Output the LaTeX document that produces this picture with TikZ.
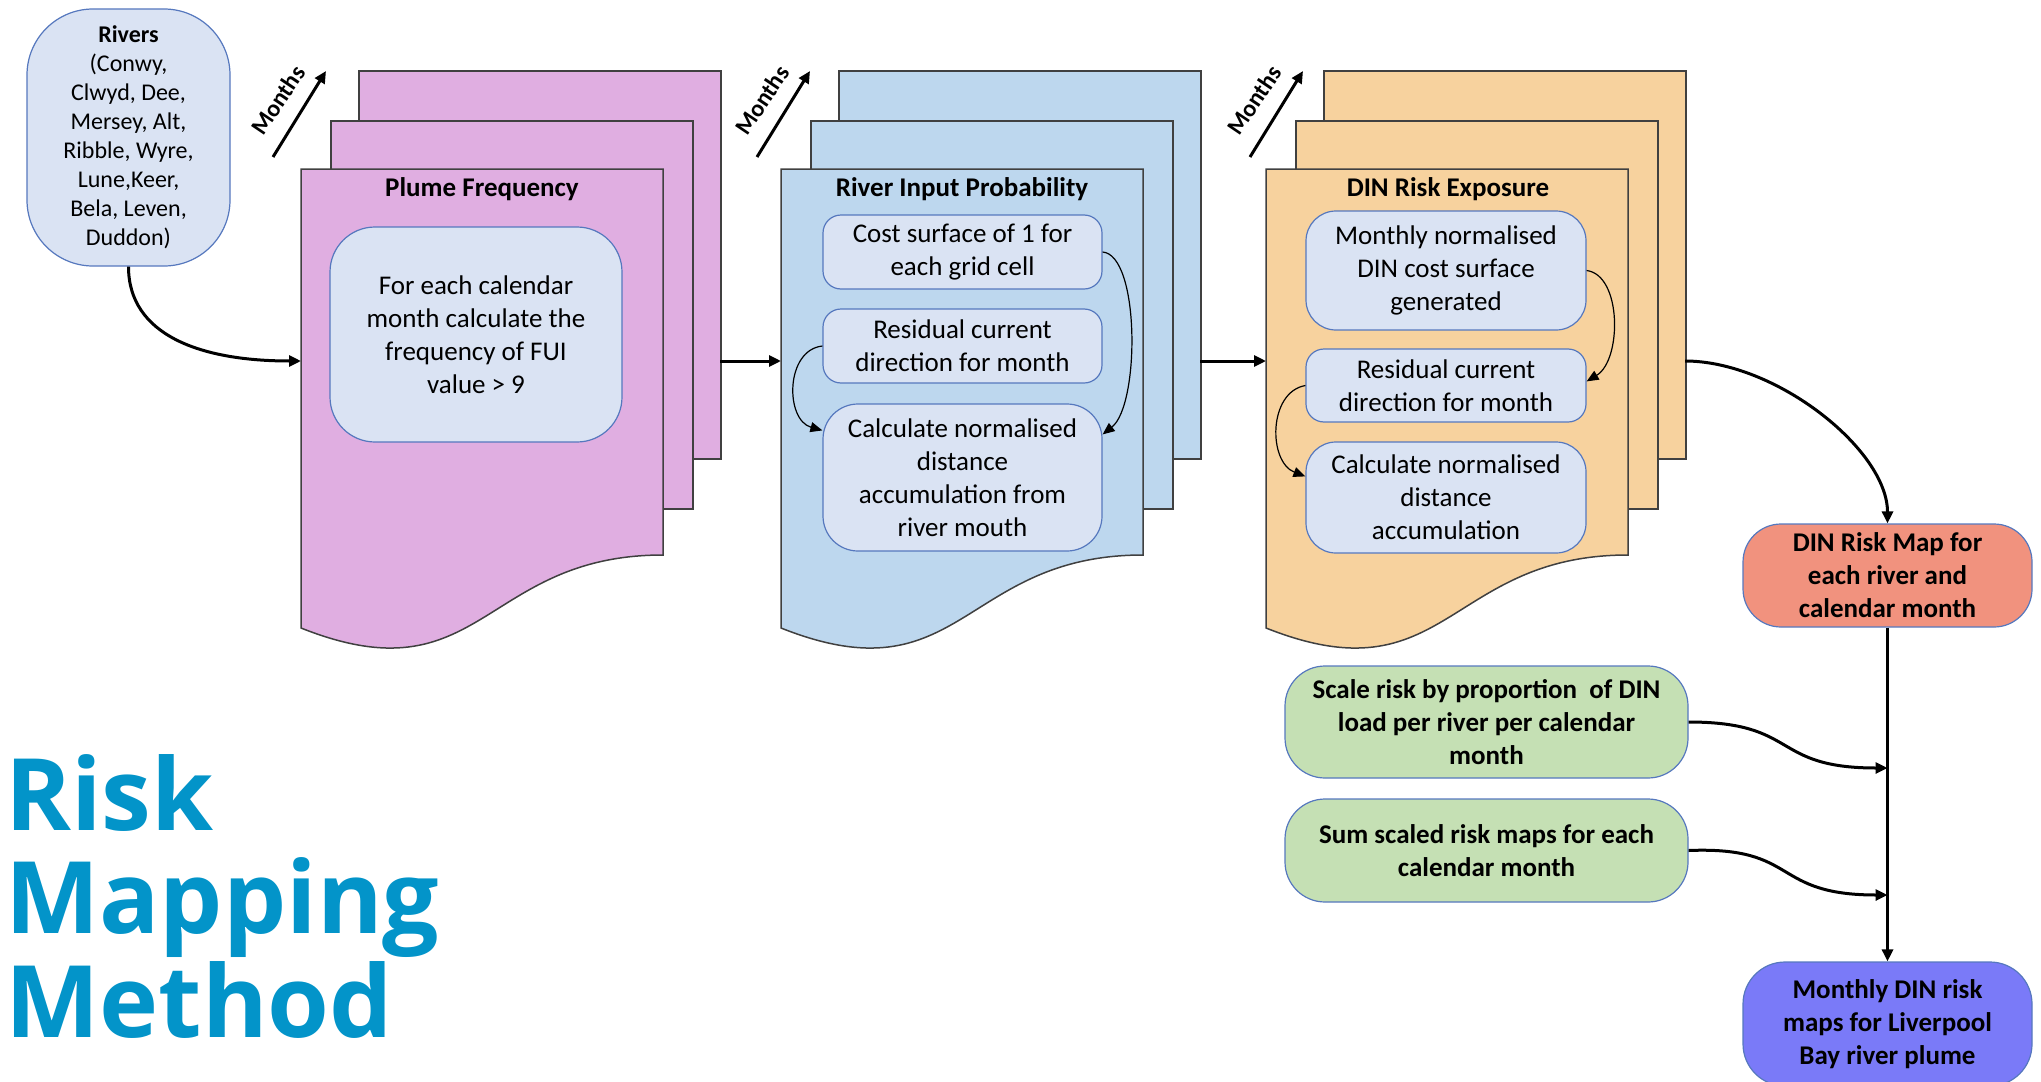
\documentclass[tikz,border=0pt]{standalone}
\usepackage{fontspec}
\setmainfont{Carlito}
\newfontfamily\titlefont{Open Sans}
\usetikzlibrary{arrows.meta,calc}

\definecolor{pinkpage}{RGB}{224,174,225}
\definecolor{bluepage}{RGB}{189,215,238}
\definecolor{orangepage}{RGB}{247,210,158}
\definecolor{boxfill}{RGB}{218,227,243}
\definecolor{boxline}{RGB}{86,120,190}
\definecolor{salmon}{RGB}{241,146,126}
\definecolor{greenbox}{RGB}{197,224,180}
\definecolor{violetbox}{RGB}{122,122,248}
\definecolor{titleblue}{RGB}{3,148,201}
\definecolor{pageline}{RGB}{64,64,64}

\newcommand\bodyfont{\fontsize{27}{33}\selectfont}
\newcommand\riverfont{\fontsize{24}{29}\selectfont}
\newcommand\monthfont{\fontsize{24}{29}\selectfont\bfseries}
\newcommand\bigtitle{\titlefont\bfseries\fontsize{100}{104}\selectfont}

\newcommand\docstack[3]{%
  \node[page, fill=#2, minimum width=362pt, minimum height=388pt, anchor=north west] (#3-back) at ({#1+57},70) {};
  \node[page, fill=#2, minimum width=362pt, minimum height=388pt, anchor=north west] (#3-mid) at ({#1+29},120) {};
  \draw[page, fill=#2] (#1,169) -- ({#1+362},169) -- ({#1+362},555) .. controls ({#1+181},555) and ({#1+181},700) .. (#1,628) -- cycle;
  \coordinate (#3-in) at (#1,361);
  \coordinate (#3-out) at ({#1+57+362},361);
}

\begin{document}
\begin{tikzpicture}[x=1pt,y=-1pt,
  page/.style={draw=pageline, line width=1.5pt, inner sep=0pt},
  ibox/.style={draw=boxline, fill=boxfill, line width=1.2pt, align=center, inner sep=0pt, font=\bodyfont},
  obox/.style={draw=boxline, line width=1.2pt, align=center, inner sep=0pt, font=\bodyfont\bfseries},
  pagetitle/.style={font=\bodyfont\bfseries, anchor=base, inner sep=0pt},
  monthlabel/.style={font=\monthfont, rotate=56, inner sep=0pt},
  flow/.style={line width=3pt, -{Triangle[length=12pt,width=11pt]}},
  loopflow/.style={line width=1.2pt, -{Triangle[length=12pt,width=10pt]}},
  titleline/.style={font=\bigtitle, text=titleblue, anchor=base west, inner sep=0pt}
]
\useasboundingbox (0,0) rectangle (2041,1081);

% ---------- document stacks ----------
\docstack{301}{pinkpage}{pf}
\docstack{781}{bluepage}{rp}
\docstack{1266}{orangepage}{de}

\node[pagetitle] (pf-title) at (482,196) {Plume Frequency};
\node[pagetitle] (rp-title) at (962,196) {River Input Probability};
\node[pagetitle] (de-title) at (1448,196) {DIN Risk Exposure};

% ---------- months arrows ----------
\node[monthlabel] (m1) at (278,100) {Months};
\coordinate (m1a) at (273,157); \coordinate (m1b) at (326,71);
\draw[flow] (m1a) -- (m1b);
\node[monthlabel] (m2) at (762,100) {Months};
\coordinate (m2a) at (757,157); \coordinate (m2b) at (810,71);
\draw[flow] (m2a) -- (m2b);
\node[monthlabel] (m3) at (1254,100) {Months};
\coordinate (m3a) at (1250,157); \coordinate (m3b) at (1303,71);
\draw[flow] (m3a) -- (m3b);

% ---------- rivers ----------
\node[ibox, rounded corners=66pt, minimum width=203pt, minimum height=257pt, font=\riverfont] (riv) at (128.5,137.5)
  {\textbf{Rivers}\\(Conwy,\\Clwyd, Dee,\\Mersey, Alt,\\Ribble, Wyre,\\Lune,Keer,\\Bela, Leven,\\Duddon)};

% ---------- inner boxes ----------
\node[ibox, rounded corners=45pt, minimum width=292pt, minimum height=215pt] (pf1) at (476,334.5)
  {For each calendar\\month calculate the\\frequency of FUI\\value > 9};

\node[ibox, rounded corners=18pt, minimum width=279pt, minimum height=74pt] (r1) at (962.5,252)
  {Cost surface of 1 for\\each grid cell};
\node[ibox, rounded corners=18pt, minimum width=279pt, minimum height=74pt] (r2) at (962.5,346)
  {Residual current\\direction for month};
\node[ibox, rounded corners=35pt, minimum width=279pt, minimum height=147pt] (r3) at (962.5,477.5)
  {Calculate normalised\\distance\\accumulation from\\river mouth};

\node[ibox, rounded corners=30pt, minimum width=280pt, minimum height=119pt] (d1) at (1446,270.5)
  {Monthly normalised\\DIN cost surface\\generated};
\node[ibox, rounded corners=18pt, minimum width=280pt, minimum height=73pt] (d2) at (1446,385.5)
  {Residual current\\direction for month};
\node[ibox, rounded corners=30pt, minimum width=280pt, minimum height=111pt] (d3) at (1446,497.5)
  {Calculate normalised\\distance\\accumulation};

% ---------- right-hand boxes ----------
\node[obox, fill=salmon, rounded corners=38pt, minimum width=289pt, minimum height=103pt] (map) at (1887.5,575.5)
  {DIN Risk Map for\\each river and\\calendar month};
\node[obox, fill=greenbox, rounded corners=40pt, minimum width=403pt, minimum height=112pt] (g1) at (1486.5,722)
  {Scale risk by proportion\ \ of DIN\\load per river per calendar\\month};
\node[obox, fill=greenbox, rounded corners=40pt, minimum width=403pt, minimum height=103pt] (g2) at (1486.5,850.5)
  {Sum scaled risk maps for each\\calendar month};
\node[obox, fill=violetbox, rounded corners=42pt, minimum width=289pt, minimum height=124pt] (final) at (1887.5,1024)
  {Monthly DIN risk\\maps for Liverpool\\Bay river plume};

% ---------- title ----------
\node[titleline] (t1) at (5,830) {Risk};
\node[titleline] (t2) at (5,933) {Mapping};
\node[titleline] (t3) at (5,1037) {Method};

% ---------- loops inside stacks ----------
\draw[loopflow] (r1.east) .. controls (1140,255) and (1140,405) .. ($(r3.north east)+(0,31)$);
\draw[loopflow] (r2.west) .. controls (785,350) and (785,420) .. ($(r3.north west)+(0,27)$);
\draw[loopflow] (d1.east) .. controls (1622,275) and (1622,360) .. ($(d2.north east)+(0,33)$);
\draw[loopflow] (d2.west) .. controls (1268,392) and (1268,462) .. ($(d3.north west)+(0,35)$);

% ---------- main flow ----------
\draw[flow] (riv.south) .. controls (128.5,335) and (200,361) .. (pf-in);
\draw[flow] (pf-out) -- (rp-in);
\draw[flow] (rp-out) -- (de-in);
\draw[flow] (de-out) .. controls (1776,361) and (1887.5,450) .. (map.north);
\draw[flow] (map.south) -- (final.north);
\coordinate (j1) at (1887.5,768);
\coordinate (j2) at (1887.5,895);
\draw[flow] (g1.east) .. controls (1800,722) and (1770,768) .. (j1);
\draw[flow] (g2.east) .. controls (1800,846) and (1770,895) .. (j2);
\end{tikzpicture}
\end{document}
